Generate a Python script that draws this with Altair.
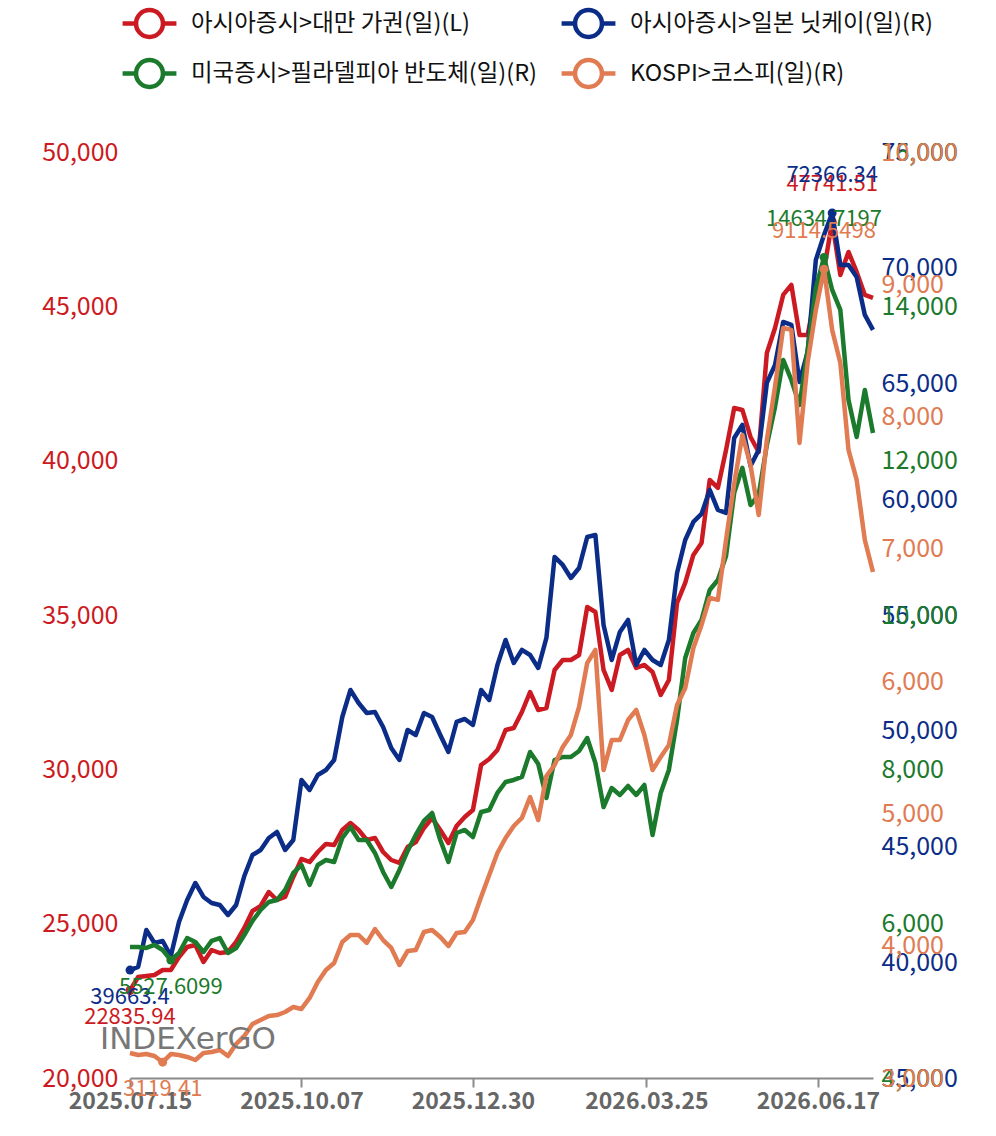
import altair as alt
import pandas as pd

SERIES = [
    "아시아증시>대만 가권(일)(L)",
    "아시아증시>일본 닛케이(일)(R)",
    "미국증시>필라델피아 반도체(일)(R)",
    "KOSPI>코스피(일)(R)",
]
COLORS = ["#cc1a22", "#0b2d87", "#1b7a2c", "#e07b52"]

# sampled every 4 days from 2025-07-15
DATES = pd.date_range("2025-07-15", periods=92, freq="4D").strftime("%Y-%m-%d").tolist()

TAIEX = [22835.94, 23272, 23305, 23337, 23499, 23499, 23920, 24244, 24309, 23758,
         24147, 24050, 24082, 24406, 24860, 25411, 25573, 26026, 25767, 25864,
         26512, 27096, 26998, 27322, 27582, 27549, 28035, 28262, 28035, 27711,
         27776, 27322, 27063, 26966, 27484, 27646, 28100, 28424, 28035, 27614,
         28165, 28456, 28683, 30141, 30336, 30627, 31275, 31340, 31858, 32506,
         31923, 31988, 33219, 33543, 33543, 33705, 35260, 35098, 33219, 32571,
         33705, 33867, 33284, 33381, 33154, 32409, 32895, 35390, 36038, 36945,
         37334, 39375, 39116, 40347, 41708, 41643, 40768, 40282, 43490, 44300,
         45369, 45693, 44073, 44073, 45434, 46179, 47741.51, 46017, 46762, 46114,
         45369, 45272]

NIKKEI = [39663.4, 39800, 41394, 40832, 40918, 40270, 41739, 42690, 43424, 42819,
          42560, 42474, 42042, 42474, 43726, 44634, 44850, 45368, 45627, 44850,
          45282, 47874, 47442, 48090, 48306, 48738, 50595, 51762, 51200, 50768,
          50811, 50163, 49256, 48738, 50034, 49818, 50768, 50595, 49818, 49083,
          50379, 50509, 50250, 51762, 51330, 52842, 53922, 52928, 53490, 53274,
          52712, 54008, 57507, 57162, 56600, 57032, 58371, 58458, 54570, 53058,
          54267, 54786, 52842, 53490, 53058, 52842, 53922, 56816, 58242, 59019,
          59365, 60402, 59538, 59408, 62648, 63210, 61438, 62130, 65024, 65802,
          67659, 67530, 65067, 66363, 70338, 71418, 72366.34, 70122, 70122, 69603,
          67962, 67314]

SOX = [5698, 5698, 5685, 5724, 5659, 5527.6099, 5620, 5814, 5763, 5633,
       5776, 5814, 5620, 5685, 5853, 6035, 6177, 6281, 6307, 6436,
       6657, 6760, 6501, 6760, 6825, 6799, 7110, 7253, 7084, 7084,
       6916, 6670, 6475, 6696, 6942, 7149, 7331, 7434, 7084, 6799,
       7175, 7214, 7123, 7447, 7473, 7694, 7836, 7862, 7901, 8225,
       8069, 7629, 8121, 8160, 8160, 8238, 8406, 8082, 7512, 7758,
       7668, 7784, 7668, 7797, 7149, 7694, 7992, 8640, 9443, 9767,
       9936, 10324, 10454, 10765, 11582, 11906, 11426, 11556, 12204, 12696,
       13305, 13046, 12722, 13435, 14238, 14634.7197, 14212, 13953, 12787, 12307,
       12916, 12359]

KOSPI = [3189, 3174, 3181, 3166, 3119.41, 3181, 3174, 3159, 3136, 3189,
         3197, 3212, 3166, 3257, 3318, 3408, 3438, 3469, 3476, 3499,
         3537, 3522, 3605, 3726, 3816, 3869, 4028, 4081, 4081, 4021,
         4126, 4043, 3983, 3854, 3960, 3968, 4104, 4119, 4066, 3998,
         4096, 4104, 4194, 4368, 4535, 4701, 4814, 4905, 4966, 5124,
         4950, 5283, 5366, 5502, 5593, 5805, 6137, 6236, 5328, 5555,
         5555, 5706, 5782, 5593, 5328, 5427, 5517, 5820, 5948, 6251,
         6425, 6629, 6614, 7067, 7491, 7861, 7634, 7256, 7823, 8224,
         8670, 8655, 7801, 8413, 8806, 9114.5498, 8655, 8405, 7748, 7521,
         7067, 6825]

VALUES = [TAIEX, NIKKEI, SOX, KOSPI]
Y_DOMAINS = [(20000, 50000), (35000, 75000), (4000, 16000), (3000, 10000)]
Y_TICKS = [
    [20000, 25000, 30000, 35000, 40000, 45000, 50000],
    [35000, 40000, 45000, 50000, 55000, 60000, 65000, 70000, 75000],
    [4000, 6000, 8000, 10000, 12000, 14000, 16000],
    [3000, 4000, 5000, 6000, 7000, 8000, 9000, 10000],
]
AXIS_SIDE = ["left", "right", "right", "right"]
X_TICKS = [(2025, 7, 15), (2025, 10, 7), (2025, 12, 30), (2026, 3, 25), (2026, 6, 17)]
X_DOMAIN = [(2025, 7, 15), (2026, 7, 14)]
WATERMARK = "INDEXerGO"

FONT = "Noto Sans CJK KR"


def dt(t):
    return alt.DateTime(year=t[0], month=t[1], date=t[2], utc=True)


x_enc = alt.X(
    "date:T",
    title=None,
    scale=alt.Scale(type="utc", domain=[dt(t) for t in X_DOMAIN]),
    axis=alt.Axis(
        values=[dt(t) for t in X_TICKS],
        format="%Y.%m.%d",
        labelFlush=False,
        labelColor="#666666",
        labelFontSize=23,
        labelFontWeight="bold",
        labelFont=FONT,
        domainColor="#8a8a8a",
        domainWidth=2,
        tickColor="#8a8a8a",
        tickWidth=2,
        tickSize=9,
        labelPadding=3,
        grid=False,
    ),
)

legend_symbol = "M-1,0L-0.5,0M0.5,0L1,0M-0.5,0A0.5,0.5,0,1,1,0.5,0A0.5,0.5,0,1,1,-0.5,0Z"

color_enc = alt.Color(
    "series:N",
    scale=alt.Scale(domain=SERIES, range=COLORS),
    legend=alt.Legend(
        title=None,
        orient="none",
        legendX=-10,
        legendY=-158,
        columns=2,
        direction="horizontal",
        gridAlign="none",
        symbolType=legend_symbol,
        symbolSize=2900,
        symbolStrokeWidth=4.5,
        symbolFillColor="white",
        labelFont=FONT,
        labelFontSize=23.5,
        labelColor="#111111",
        labelOffset=12,
        labelLimit=0,
        columnPadding=14,
        rowPadding=-2,
    ),
)

layers = []
for k, name in enumerate(SERIES):
    df = pd.DataFrame({"date": DATES, "value": VALUES[k], "series": name})
    i_min = int(df["value"].idxmin())
    i_max = int(df["value"].idxmax())
    ext = df.loc[[i_min, i_max]].copy()
    ext["label"] = [str(VALUES[k][i_min]), str(VALUES[k][i_max])]
    ext["kind"] = ["min", "max"]

    y_enc = alt.Y(
        "value:Q",
        title=None,
        scale=alt.Scale(domain=list(Y_DOMAINS[k]), nice=False, zero=False),
        axis=alt.Axis(
            orient=AXIS_SIDE[k],
            values=Y_TICKS[k],
            format=",d",
            labelColor=COLORS[k],
            labelFontSize=25,
            labelFont=FONT,
            labelPadding=12 if AXIS_SIDE[k] == "left" else 8,
            domain=False,
            ticks=False,
            grid=False,
            labelOverlap=False,
        ),
    )

    line = alt.Chart(df).mark_line(strokeWidth=4.5, strokeJoin="round").encode(
        x=x_enc, y=y_enc, color=color_enc
    )
    pts = alt.Chart(ext).mark_circle(size=80, opacity=1, color=COLORS[k]).encode(x=x_enc, y=y_enc)
    t_min = alt.Chart(ext).transform_filter(alt.datum.kind == "min").mark_text(
        dy=27, fontSize=22, font=FONT, color=COLORS[k]
    ).encode(x=x_enc, y=y_enc, text="label:N")
    t_max = alt.Chart(ext).transform_filter(alt.datum.kind == "max").mark_text(
        dy=-38, fontSize=22, font=FONT, color=COLORS[k]
    ).encode(x=x_enc, y=y_enc, text="label:N")
    layers.append(alt.layer(line, pts, t_min, t_max))

wm = alt.Chart(pd.DataFrame({"t": [WATERMARK]})).mark_text(
    align="left", baseline="middle", fontSize=31, font="DejaVu Sans", color="#777777"
).encode(x=alt.value(-30), y=alt.value(888), text="t:N")

chart = (
    alt.layer(*layers, wm)
    .resolve_scale(y="independent")
    .properties(
        width=743,
        height=926,
        padding={"left": 130, "top": 152, "right": 123, "bottom": 58},
        autosize=alt.AutoSizeParams(type="none"),
        background="white",
    )
    .configure_view(stroke=None)
)

chart.save("out.html", embed_options={"renderer": "svg", "actions": False})
